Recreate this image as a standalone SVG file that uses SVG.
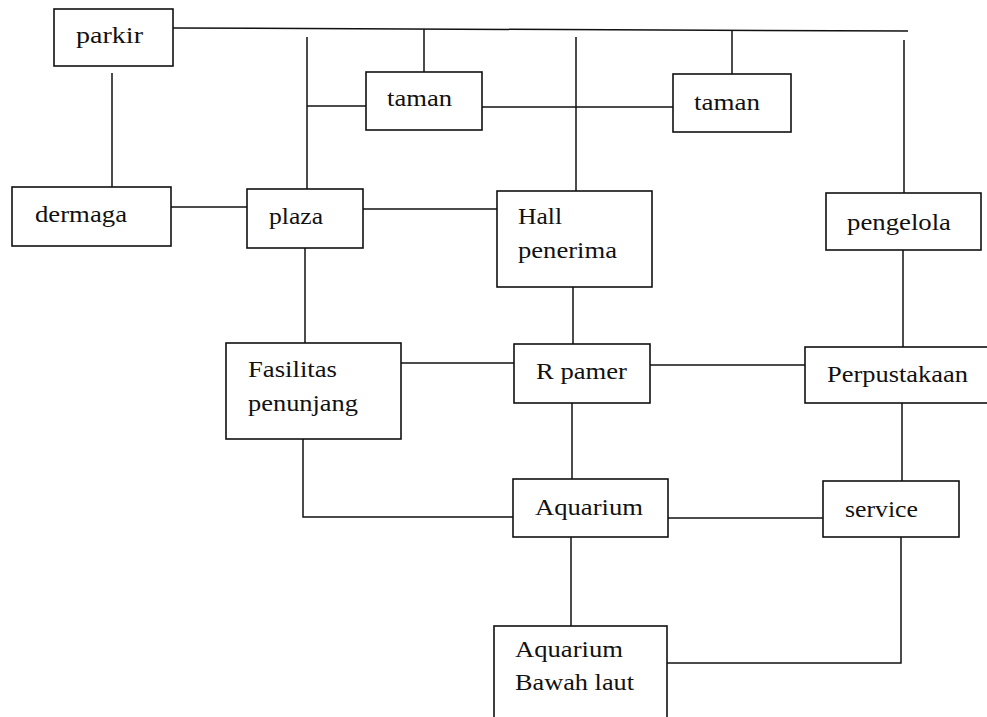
<svg xmlns="http://www.w3.org/2000/svg" width="987" height="717" viewBox="0 0 987 717">
<style>
.box{fill:#fff;stroke:#111;stroke-width:1.6}
text{font-family:'Liberation Serif','DejaVu Serif',serif;font-size:23px;fill:#111}
#connectors path{fill:none;stroke:#111;stroke-width:1.5}
</style>
<rect width="987" height="717" fill="#fff"/>
<g id="connectors">
<path d="M173 28 L908 31"/>
<path d="M112 73 V187"/>
<path d="M171 207 H247"/>
<path d="M307 37 V189"/>
<path d="M307 106 H366"/>
<path d="M424 29 V72"/>
<path d="M482 107 H673"/>
<path d="M576 37 V191"/>
<path d="M732 31 V74"/>
<path d="M904 40 V193"/>
<path d="M363 209 H497"/>
<path d="M903 250 V347"/>
<path d="M573 287 V344"/>
<path d="M305 248 V343"/>
<path d="M401 363 H514"/>
<path d="M650 365 H805"/>
<path d="M572 403 V479"/>
<path d="M902 403 V481"/>
<path d="M303 439 V517 H513"/>
<path d="M668 518 H823"/>
<path d="M571 530 V626"/>
<path d="M901 530 V663 H667"/>
</g>
<g id="parkir"><rect class="box" x="54" y="9" width="119" height="57"/><text x="76" y="43" textLength="67" lengthAdjust="spacingAndGlyphs">parkir</text></g>
<g id="dermaga"><rect class="box" x="12" y="187" width="159" height="59"/><text x="35" y="222" textLength="92" lengthAdjust="spacingAndGlyphs">dermaga</text></g>
<g id="plaza"><rect class="box" x="247" y="189" width="116" height="59"/><text x="269" y="224" textLength="54" lengthAdjust="spacingAndGlyphs">plaza</text></g>
<g id="taman1"><rect class="box" x="366" y="72" width="116" height="58"/><text x="387" y="106" textLength="65" lengthAdjust="spacingAndGlyphs">taman</text></g>
<g id="taman2"><rect class="box" x="673" y="74" width="118" height="58"/><text x="694" y="110" textLength="66" lengthAdjust="spacingAndGlyphs">taman</text></g>
<g id="hall-penerima"><rect class="box" x="497" y="191" width="155" height="96"/><text x="518" y="224" textLength="44" lengthAdjust="spacingAndGlyphs">Hall</text><text x="518" y="258" textLength="99" lengthAdjust="spacingAndGlyphs">penerima</text></g>
<g id="pengelola"><rect class="box" x="826" y="193" width="155" height="57"/><text x="847" y="230" textLength="104" lengthAdjust="spacingAndGlyphs">pengelola</text></g>
<g id="fasilitas-penunjang"><rect class="box" x="226" y="343" width="175" height="96"/><text x="248" y="377" textLength="89" lengthAdjust="spacingAndGlyphs">Fasilitas</text><text x="248" y="411" textLength="110" lengthAdjust="spacingAndGlyphs">penunjang</text></g>
<g id="r-pamer"><rect class="box" x="514" y="344" width="136" height="59"/><text x="536" y="379" textLength="91" lengthAdjust="spacingAndGlyphs">R pamer</text></g>
<g id="perpustakaan"><rect class="box" x="805" y="347" width="195" height="56"/><text x="827" y="382" textLength="141" lengthAdjust="spacingAndGlyphs">Perpustakaan</text></g>
<g id="aquarium"><rect class="box" x="513" y="479" width="155" height="58"/><text x="535" y="515" textLength="108" lengthAdjust="spacingAndGlyphs">Aquarium</text></g>
<g id="service"><rect class="box" x="823" y="481" width="136" height="56"/><text x="845" y="517" textLength="73" lengthAdjust="spacingAndGlyphs">service</text></g>
<g id="aquarium-bawah-laut"><rect class="box" x="494" y="626" width="173" height="100"/><text x="515" y="657" textLength="108" lengthAdjust="spacingAndGlyphs">Aquarium</text><text x="515" y="690" textLength="119" lengthAdjust="spacingAndGlyphs">Bawah laut</text></g>
</svg>
